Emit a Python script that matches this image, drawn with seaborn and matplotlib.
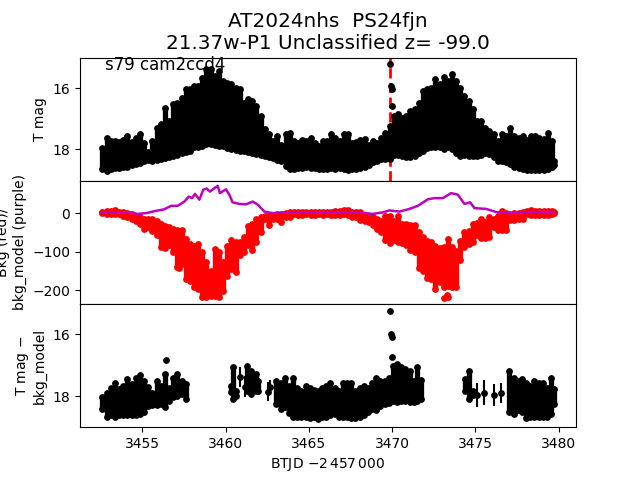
import matplotlib
matplotlib.use("Agg")
import matplotlib.pyplot as plt
import seaborn as sns

# top panel: time, brightest and faintest magnitude in each time bin
t_lc = [3452.6, 3452.85, 3453.1, 3453.35, 3453.6, 3453.85, 3454.1, 3454.35, 3454.6, 3454.85,
        3455.1, 3455.35, 3455.6, 3455.85, 3456.1, 3456.35, 3456.6, 3456.85, 3457.1, 3457.35,
        3457.6, 3457.85, 3458.1, 3458.35, 3458.6, 3458.85, 3459.1, 3459.35, 3459.6, 3459.85,
        3460.1, 3460.35, 3460.6, 3460.85, 3461.1, 3461.35, 3461.6, 3461.85, 3462.1, 3462.35,
        3462.6, 3462.85, 3463.1, 3463.35, 3463.6, 3463.85, 3464.1, 3464.35, 3464.6, 3464.85,
        3465.1, 3465.35, 3465.6, 3465.85, 3466.1, 3466.35, 3466.6, 3466.85, 3467.1, 3467.35,
        3467.6, 3467.85, 3468.1, 3468.35, 3468.6, 3468.85, 3469.1, 3469.35, 3469.6, 3469.85,
        3470.1, 3470.35, 3470.6, 3470.85, 3471.1, 3471.35, 3471.6, 3471.85, 3472.1, 3472.35,
        3472.6, 3472.85, 3473.1, 3473.35, 3473.6, 3473.85, 3474.1, 3474.35, 3474.6, 3474.85,
        3475.1, 3475.35, 3475.6, 3475.85, 3476.1, 3476.35, 3476.6, 3476.85, 3477.1, 3477.35,
        3477.6, 3477.85, 3478.1, 3478.35, 3478.6, 3478.85, 3479.1, 3479.35, 3479.6, 3479.7]
mag_bright = [17.95, 17.63, 17.74, 17.74, 17.77, 17.70, 17.57, 17.77, 17.63, 17.52,
              17.79, 18.10, 17.74, 17.30, 17.19, 16.64, 17.08, 16.53, 16.48, 16.32,
              16.04, 16.04, 15.93, 15.93, 15.66, 15.39, 15.39, 15.60, 15.44, 15.77,
              15.82, 15.88, 15.99, 16.04, 16.48, 16.37, 16.42, 16.59, 16.92, 17.35,
              17.52, 17.74, 17.57, 17.85, 17.52, 17.46, 17.74, 17.79, 17.70, 17.74,
              17.63, 17.79, 17.90, 17.74, 17.74, 17.52, 17.63, 17.74, 17.52, 17.52,
              17.79, 17.77, 17.70, 17.68, 17.85, 17.74, 17.79, 17.63, 17.46, 17.24,
              16.92, 16.86, 16.97, 16.92, 16.75, 16.70, 16.48, 16.10, 16.04, 15.99,
              15.71, 15.88, 15.63, 15.77, 15.55, 15.77, 15.99, 16.26, 16.42, 16.70,
              17.08, 17.08, 17.30, 17.41, 17.52, 17.74, 17.52, 17.57, 17.30, 17.57,
              17.63, 17.57, 17.70, 17.57, 17.57, 17.63, 17.66, 17.46, 17.74, 18.40]
mag_faint = [18.65, 18.71, 18.65, 18.62, 18.62, 18.60, 18.58, 18.51, 18.49, 18.47,
             18.40, 18.36, 18.38, 18.35, 18.33, 18.29, 18.25, 18.22, 18.18, 18.14,
             18.11, 18.05, 17.94, 17.94, 17.89, 17.83, 17.83, 17.85, 17.89, 17.89,
             17.97, 18.00, 18.03, 18.05, 18.07, 18.11, 18.14, 18.16, 18.18, 18.22,
             18.27, 18.30, 18.35, 18.38, 18.54, 18.65, 18.65, 18.62, 18.62, 18.60,
             18.62, 18.62, 18.65, 18.65, 18.65, 18.62, 18.65, 18.62, 18.65, 18.69,
             18.65, 18.65, 18.62, 18.58, 18.51, 18.43, 18.38, 18.33, 18.33, 18.33,
             18.18, 18.18, 18.22, 18.25, 18.25, 18.22, 18.14, 18.05, 17.97, 17.94,
             17.92, 17.92, 18.00, 17.94, 18.00, 18.14, 18.22, 18.18, 18.22, 18.22,
             18.22, 18.18, 18.14, 18.16, 18.27, 18.38, 18.40, 18.43, 18.49, 18.58,
             18.62, 18.65, 18.69, 18.69, 18.69, 18.69, 18.69, 18.65, 18.60, 18.51]
t_flare = [3469.9, 3469.93, 3469.97, 3470.0]
mag_flare = [15.22, 15.93, 16.04, 16.59]
t_disc = 3469.9

# middle panel: background flux and background model
bkg_top = [3, 5, 6, 7, 3, 2, 0, -3, -7, -10,
           -14, -16, -14, -20, -29, -33, -35, -42, -43, -43,
           -68, -81, -85, -81, -102, -128, -150, -94, -102, -128,
           -85, -69, -76, -76, -63, -33, -29, -16, -11, -7,
           -4, -4, -3, -2, 0, 2, 2, 3, 4, 3,
           3, 4, 3, 3, 3, 3, 5, 6, 8, 7,
           3, 3, 2, -5, -7, -11, -16, -20, -7, -7,
           -20, -7, -29, -29, -31, -31, -50, -63, -72, -74,
           -85, -90, -89, -68, -89, -98, -72, -48, -46, -29,
           -26, -16, -23, -11, -16, -7, 6, 0, -3, 0,
           0, 3, 6, 8, 5, 6, 5, 5, 6, 2]
bkg_bot = [0, -2, -2, -2, -3, -7, -10, -15, -21, -28,
           -41, -36, -47, -58, -88, -90, -84, -101, -140, -132,
           -171, -175, -192, -197, -218, -218, -214, -214, -218, -201,
           -162, -145, -153, -110, -101, -84, -95, -75, -49, -15,
           -32, -15, -15, -23, -10, -9, -3, -5, -4, -3,
           -4, -6, -3, -5, -3, -6, -6, -4, -3, -6,
           -9, -10, -17, -21, -23, -32, -40, -49, -71, -78,
           -71, -75, -78, -84, -97, -101, -142, -149, -168, -171,
           -197, -179, -191, -188, -191, -191, -123, -88, -80, -75,
           -58, -64, -64, -62, -36, -45, -45, -45, -19, -17,
           -15, -15, -3, -6, -6, -4, -6, -6, -3, 0]
t_bkg_low = [3473.1, 3473.3, 3473.33, 3457.18]
bkg_low = [-221, -213, -218, -143]
t_model = [3452.6, 3454.22, 3454.72, 3455.22, 3455.82, 3456.32, 3456.72, 3457.12, 3457.52, 3457.78,
           3457.98, 3458.16, 3458.42, 3458.66, 3458.86, 3459.06, 3459.52, 3459.66, 3460.02, 3460.22,
           3460.42, 3460.83, 3461.23, 3461.63, 3461.93, 3462.33, 3462.83, 3463.63, 3466.24, 3467.84,
           3468.84, 3469.44, 3469.84, 3470.44, 3471.05, 3471.55, 3472.15, 3472.55, 3473.05, 3473.55,
           3473.95, 3474.35, 3474.69, 3474.95, 3475.65, 3476.25, 3477.06, 3478.26, 3479.7]
bkg_model = [2, 2, -2, 0, 6, 10, 19, 19, 30, 43,
             39, 50, 35, 61, 64, 56, 71, 52, 62, 48,
             28, 24, 23, 30, 22, 4, 0, 2, 2, 3,
             -2, 2, 7, 4, 11, 19, 36, 39, 39, 52,
             48, 24, 28, 13, 11, 3, 0, 3, 3]

# bottom panel: background subtracted magnitudes
t_sub = [3452.6, 3452.85, 3453.1, 3453.35, 3453.6, 3453.85, 3454.1, 3454.35, 3454.6, 3454.85,
         3455.1, 3455.35, 3455.6, 3455.85, 3456.1, 3456.35, 3456.6, 3456.85, 3457.1, 3457.35,
         3457.6, 3460.3, 3460.45, 3460.6, 3461.3, 3461.55, 3461.8, 3461.95,
         3463.05, 3463.3, 3463.55, 3463.8, 3464.05, 3464.3, 3464.55, 3464.8,
         3465.05, 3465.3, 3465.55, 3465.8, 3466.05, 3466.3, 3466.55, 3466.8, 3467.05, 3467.3,
         3467.55, 3467.8, 3468.05, 3468.3, 3468.55, 3468.8, 3469.05, 3469.3, 3469.55, 3469.8,
         3470.05, 3470.3, 3470.55, 3470.8, 3471.05, 3471.3, 3471.5, 3471.75,
         3474.4, 3474.65, 3474.85,
         3477.05, 3477.3, 3477.55, 3477.8, 3478.05, 3478.3, 3478.55, 3478.8, 3479.05, 3479.3,
         3479.55, 3479.7]
sub_bright = [18.04, 17.88, 17.72, 17.56, 17.75, 17.67, 17.43, 17.61, 17.40, 17.32,
              17.52, 17.69, 17.88, 17.52, 17.67, 17.29, 17.72, 17.40, 17.29, 17.52,
              17.61, 17.67, 17.07, 17.83, 17.02, 17.18, 17.29, 17.52,
              17.52, 17.56, 17.40, 17.67, 17.40, 17.72, 17.83, 17.67,
              17.72, 17.80, 17.83, 17.72, 17.67, 17.56, 17.72, 17.83, 17.56, 17.56,
              17.56, 17.83, 17.72, 17.67, 17.72, 17.56, 17.40, 17.52, 17.52, 17.40,
              17.02, 16.97, 17.07, 17.11, 17.18, 17.52, 17.04, 17.47,
              17.45, 17.18, 17.83,
              17.18, 17.40, 17.52, 17.43, 17.56, 17.67, 17.52, 17.58, 17.56, 17.72,
              17.40, 17.77]
sub_faint = [18.41, 18.68, 18.62, 18.66, 18.62, 18.59, 18.59, 18.59, 18.59, 18.57,
             18.52, 18.33, 18.27, 18.27, 18.25, 18.35, 18.14, 18.03, 17.98, 17.92,
             18.09, 17.87, 18.09, 17.98, 17.82, 17.92, 17.82, 17.82,
             18.25, 18.41, 18.35, 18.55, 18.66, 18.68, 18.68, 18.68,
             18.70, 18.66, 18.73, 18.66, 18.66, 18.62, 18.57, 18.68, 18.66, 18.68,
             18.70, 18.70, 18.66, 18.62, 18.52, 18.41, 18.44, 18.30, 18.25, 18.23,
             18.16, 18.19, 18.16, 18.16, 18.19, 18.19, 18.14, 18.09,
             17.82, 18.09, 17.95,
             18.52, 18.57, 18.46, 18.52, 18.70, 18.66, 18.68, 18.68, 18.68, 18.68,
             18.57, 18.25]
t_single = [3460.89, 3461.17, 3462.53, 3462.69, 3475.09, 3475.51, 3476.1, 3476.52]
mag_single = [17.37, 17.69, 17.85, 17.71, 17.96, 17.88, 17.96, 17.90]
err_single = [0.32, 0.35, 0.30, 0.24, 0.38, 0.41, 0.35, 0.32]
t_sub_flare = [3456.4, 3469.9, 3469.93, 3469.97, 3470.0]
mag_sub_flare = [16.83, 15.23, 15.99, 16.10, 16.74]


def dots(ax, x, y, color='k', size=24):
    sns.scatterplot(x=x, y=y, ax=ax, color=color, s=size, linewidth=0, legend=False, zorder=3)


def band(ax, x, y1, y2, color='k', width=3.8):
    # vertical spread of the points in each time bin
    ax.vlines(x, y1, y2, colors=color, linewidth=width, zorder=3)
    dots(ax, x, y1, color)
    dots(ax, x, y2, color)


fig, (ax1, ax2, ax3) = plt.subplots(3, 1, sharex=True, figsize=(6.4, 4.8))
fig.subplots_adjust(hspace=0)

ax1.axvline(t_disc, color='r', linestyle='--', linewidth=2, zorder=2)
band(ax1, t_lc, mag_bright, mag_faint)
dots(ax1, t_flare, mag_flare)
ax1.set_ylim(19.04, 15.0)
ax1.set_yticks([16, 18])
ax1.set_ylabel('T mag')
ax1.text(0.05, 0.9, 's79 cam2ccd4', transform=ax1.transAxes, fontsize=12)
ax1.set_title('AT2024nhs  PS24fjn\n21.37w-P1 Unclassified z= -99.0', fontsize=14.4)

band(ax2, t_lc, bkg_top, bkg_bot, color='r')
dots(ax2, t_bkg_low, bkg_low, color='r')
sns.lineplot(x=t_model, y=bkg_model, ax=ax2, color='m', linewidth=1.8, sort=False,
             errorbar=None, legend=False, zorder=4)
ax2.set_ylim(-236, 84)
ax2.set_yticks([0, -100, -200])
ax2.set_ylabel('Bkg (red)/\nbkg_model (purple)')

band(ax3, t_sub, sub_bright, sub_faint)
ax3.errorbar(t_single, mag_single, yerr=err_single, fmt='none', ecolor='k', elinewidth=1.5, zorder=3)
dots(ax3, t_single, mag_single)
dots(ax3, t_sub_flare, mag_sub_flare)
ax3.set_ylim(19.0, 15.02)
ax3.set_yticks([16, 18])
ax3.set_ylabel('T mag $-$\nbkg_model')
ax3.set_xlabel(r'BTJD $-2\,457\,000$')
ax3.set_xlim(3451.25, 3481.05)
ax3.set_xticks([3455, 3460, 3465, 3470, 3475, 3480])

ax1.tick_params(bottom=False)
ax2.tick_params(bottom=False)

fig.savefig('out.png', dpi=100)
